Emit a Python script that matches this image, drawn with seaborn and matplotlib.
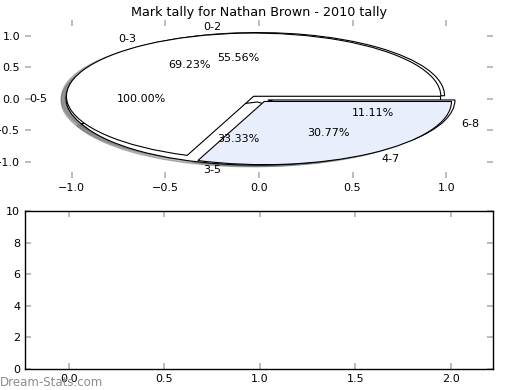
"""
Mark tally pie chart for Nathan Brown (2010), with the empty panel below.
"""

import matplotlib
matplotlib.use('Agg')
import matplotlib.pyplot as plt
import seaborn as sns

# ── data ─────────────────────────────────────────────────────────────────────
title = 'Mark tally for Nathan Brown - 2010 tally'

labels_full  = ['0-5']
counts_full  = [1]

labels_three = ['0-2', '3-5', '6-8']
counts_three = [5, 3, 1]

labels_two   = ['0-3', '4-7']
counts_two   = [9, 4]

lower_xlim = (-0.23, 2.22)
lower_ylim = (0, 10)

# ── style ────────────────────────────────────────────────────────────────────
sns.set_theme(style='ticks', rc={
    'xtick.direction': 'in',
    'ytick.direction': 'in',
    'xtick.major.size': 4,
    'ytick.major.size': 4,
    'xtick.top': True,
    'ytick.right': True,
    'axes.edgecolor': 'black',
    'axes.linewidth': 1.0,
    'text.color': 'black',
    'xtick.labelcolor': 'black',
    'ytick.labelcolor': 'black',
})
plt.rcParams['font.family'] = ['DejaVu Sans']

LIGHT_BLUE = '#e8eefb'

fig = plt.figure(figsize=(5.2, 3.9), dpi=100)
ax_pie = fig.add_axes([0.048, 0.544, 0.900, 0.405])
ax_low = fig.add_axes([0.048, 0.054, 0.900, 0.405])


def draw_pie(ax, counts, labels, colors, explode):
    ax.pie(counts, labels=labels, colors=colors, autopct='%1.2f%%',
           explode=[explode] * len(counts),
           shadow={'ox': -0.02, 'oy': -0.02, 'shade': 0.6, 'alpha': 0.45},
           textprops={'fontsize': 8, 'color': 'black'},
           wedgeprops={'edgecolor': 'black', 'linewidth': 0.8})


# pies drawn one over the other, last one ends up on top
draw_pie(ax_pie, counts_full, labels_full, ['white'], 0.03)
draw_pie(ax_pie, counts_three, labels_three, ['white', 'white', 'white'], 0.05)
draw_pie(ax_pie, counts_two, labels_two, ['white', LIGHT_BLUE], 0.05)

ax_pie.set_aspect('auto')
ax_pie.set_frame_on(False)
ax_pie.set_xlim(-1.25, 1.25)
ax_pie.set_ylim(-1.25, 1.25)
ax_pie.set_xticks([-1.0, -0.5, 0.0, 0.5, 1.0])
ax_pie.set_yticks([-1.0, -0.5, 0.0, 0.5, 1.0])
ax_pie.tick_params(color='0.7', labelsize=8, labelcolor='black',
                   top=True, right=True, direction='in')
ax_pie.set_title(title, fontsize=9.2, pad=3)

# ── lower empty panel ────────────────────────────────────────────────────────
ax_low.set_xlim(*lower_xlim)
ax_low.set_ylim(*lower_ylim)
ax_low.set_xticks([0.0, 0.5, 1.0, 1.5, 2.0])
ax_low.set_yticks([0, 2, 4, 6, 8, 10])
ax_low.tick_params(color='0.7', labelsize=8, labelcolor='black',
                   top=True, right=True, direction='in')

fig.text(0.0, 0.01, 'Dream-Stats.com', fontsize=8.5, color='0.55')

plt.savefig('out.png', dpi=100)
plt.close()
